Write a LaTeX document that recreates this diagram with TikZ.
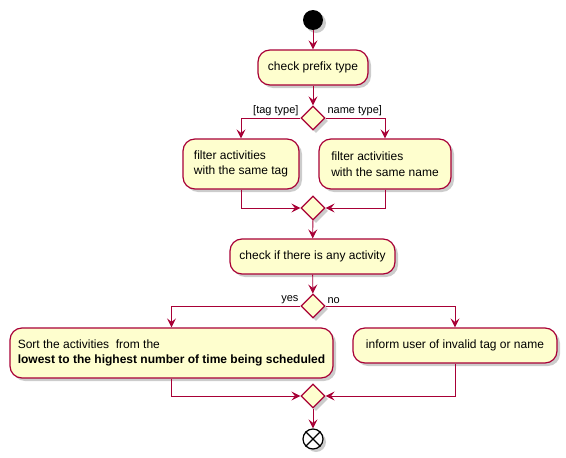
\documentclass[tikz,border=0pt]{standalone}
\usepackage{fontspec}
\setmainfont{Liberation Sans}
\usetikzlibrary{shapes.geometric, arrows.meta, shadows}
\definecolor{umlred}{HTML}{A80036}
\definecolor{umlfill}{HTML}{FEFECE}
\tikzset{
  action/.style={rectangle, rounded corners=12pt, draw=umlred,
                 line width=1.2pt, fill=umlfill, minimum height=35pt,
                 inner sep=0pt, align=left,
                 font=\fontsize{12}{15.5}\selectfont,
                 drop shadow={shadow xshift=3pt, shadow yshift=-3pt,
                              fill=black!40, opacity=0.5}},
  branch/.style={diamond, draw=umlred, line width=1.2pt, fill=umlfill,
                 minimum width=24pt, minimum height=24pt, inner sep=0pt,
                 drop shadow={shadow xshift=3pt, shadow yshift=-3pt,
                              fill=black!40, opacity=0.5}},
  flow/.style={-{Stealth[length=9pt, width=9pt, inset=3.5pt]},
               draw=umlred, line width=0.9pt},
  guard/.style={font=\fontsize{11}{13}\selectfont, inner sep=1.5pt},
}

\begin{document}
\begin{tikzpicture}[x=1pt, y=-1pt]
  \useasboundingbox (0,0) rectangle (566,458);

  %% Start and first check
  \node[circle, fill=black, minimum size=20pt, inner sep=0pt,
        drop shadow={shadow xshift=3pt, shadow yshift=-3pt,
                     fill=black!40, opacity=0.5}] (start) at (313,20) {};
  \node[action, minimum width=110pt] (chkPrefix) at (313,67.5) {check prefix type};
  \node[branch] (decType) at (313,118) {};

  %% Filter by tag or by name
  \node[action, minimum width=116pt, minimum height=50pt] (filterTag) at (241,164)
    {filter activities\\with the same tag};
  \node[action, minimum width=132pt, minimum height=50pt] (filterName) at (385,164)
    {filter activities\\with the same name};
  \node[branch] (mergeType) at (313,208) {};

  %% Any activity left?
  \node[action, minimum width=165pt] (chkAny) at (312.5,256.5) {check if there is any activity};
  \node[branch] (decAny) at (313,306) {};
  \node[action, minimum width=323pt, minimum height=50pt] (sortAct) at (171.5,353)
    {Sort the activities\ \ from the\\\textbf{lowest to the highest number of time being scheduled}};
  \node[action, minimum width=204pt] (inform) at (455,345.5) {inform user of invalid tag or name};
  \node[branch] (mergeAny) at (313,396) {};

  %% Stop
  \node[circle, draw=black, line width=1.2pt, fill=white, minimum size=20pt,
        inner sep=0pt,
        drop shadow={shadow xshift=3pt, shadow yshift=-3pt,
                     fill=black!40, opacity=0.5}] (stop) at (313,439) {};
  \draw[line width=1.2pt] (stop.45) -- (stop.225) (stop.135) -- (stop.315);

  %% Flows
  \draw[flow] (start) -- (chkPrefix);
  \draw[flow] (chkPrefix) -- (decType);
  \draw[flow] (decType.west) node[guard, anchor=south east] {[tag type]} -| (filterTag.north);
  \draw[flow] (decType.east) node[guard, anchor=south west] {name type]} -| (filterName.north);
  \draw[flow] (filterTag.south) |- (mergeType.west);
  \draw[flow] (filterName.south) |- (mergeType.east);
  \draw[flow] (mergeType) -- (chkAny);
  \draw[flow] (chkAny) -- (decAny);
  \draw[flow] (decAny.west) node[guard, anchor=south east] {yes} -| (sortAct.north);
  \draw[flow] (decAny.east) node[guard, anchor=south west] {no} -| (inform.north);
  \draw[flow] (sortAct.south) |- (mergeAny.west);
  \draw[flow] (inform.south) |- (mergeAny.east);
  \draw[flow] (mergeAny) -- (stop);

\end{tikzpicture}
\end{document}
